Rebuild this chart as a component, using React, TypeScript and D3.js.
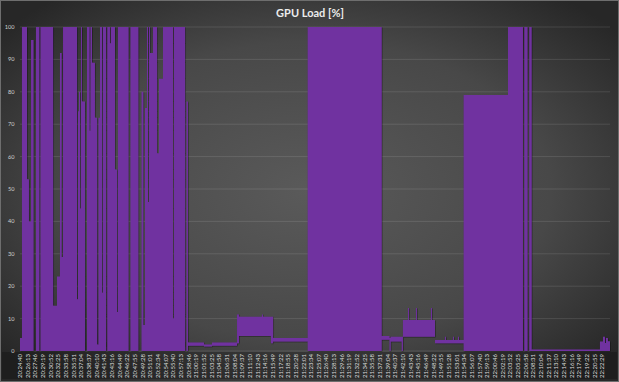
import React from 'react';
import * as d3 from 'd3';

// X-axis category labels (one every 93 s)
const tickLabels = [
  '20:24:40','20:26:13','20:27:46','20:29:19','20:30:52','20:32:25','20:33:58','20:35:31','20:37:04','20:38:37',
  '20:40:10','20:41:43','20:43:16','20:44:49','20:46:22','20:47:55','20:49:28','20:51:01','20:52:34','20:54:07',
  '20:55:40','20:57:13','20:58:46','21:00:19','21:01:52','21:03:25','21:04:58','21:06:31','21:08:04','21:09:37',
  '21:11:10','21:12:43','21:14:16','21:15:49','21:17:22','21:18:55','21:20:28','21:22:01','21:23:34','21:25:07',
  '21:26:40','21:28:13','21:29:46','21:31:19','21:32:52','21:34:25','21:35:58','21:37:31','21:39:04','21:40:37',
  '21:42:10','21:43:43','21:45:16','21:46:49','21:48:22','21:49:55','21:51:28','21:53:01','21:54:34','21:56:07',
  '21:57:40','21:59:13','22:00:46','22:02:19','22:03:52','22:05:25','22:06:58','22:08:31','22:10:04','22:11:37',
  '22:13:10','22:14:43','22:16:16','22:17:49','22:19:22','22:20:55','22:22:29'
];
const TICK_INTERVAL_S = 93;
const DOMAIN_END_S = 7161;

// Step series: seconds since 20:24:40, GPU load high / low (%)
const stepTimes = [
  0, 24, 85, 109, 134, 164, 194, 234, 249, 401, 449, 485, 506, 522, 692, 704, 716, 728, 740, 752,
  789, 813, 844, 856, 874, 910, 935, 953, 971, 995, 1007, 1044, 1060, 1092, 1104, 1153, 1177, 1189, 1317, 1341,
  1436, 1475, 1496, 1517, 1541, 1554, 1566, 1578, 1614, 1663, 1687, 1736, 1857, 1869, 2003, 2021,
  2039, 2233, 2330, 2634, 2658, 2937, 2949, 3046, 3071, 3492, 4390, 4485, 4499, 4633, 4648, 4709, 4721, 4806, 4818, 4988,
  5000, 5037, 5158, 5170, 5255, 5267, 5316, 5328, 5385, 5923, 6105, 6121, 6160, 6181, 6210, 7039, 7076, 7100, 7112, 7136
];
const stepHigh = [
  4, 100, 53, 40, 96, 0, 100, 0, 100, 14, 23, 92, 29, 100, 16, 74, 80, 44, 100, 77,
  0, 100, 68, 100, 89, 72, 2, 72, 100, 18, 100, 0, 100, 95, 100, 56, 12, 100, 0, 100,
  0, 80, 8, 75, 100, 46, 100, 92, 100, 61, 84, 100, 10, 100, 0, 77,
  2.6, 2.0, 2.6, 11.3, 10.6, 11.3, 10.6, 10.6, 4, 100, 4.6, 4, 4.4, 4.4, 9.6, 13.3, 9.6, 13.3, 9.6, 13.3,
  9.6, 3.4, 4.4, 3.4, 4.4, 3.4, 4.4, 3.4, 79, 100, 0, 100, 0, 100, 0.5, 2.9, 4.4, 2.5, 4, 3
];
const stepLow = [
  0, 0, 0, 0, 0, 0, 0, 0, 0, 0, 0, 0, 0, 0, 0, 0, 0, 0, 0, 0,
  0, 0, 0, 0, 0, 0, 0, 0, 0, 0, 0, 0, 0, 0, 0, 0, 0, 0, 0, 0,
  0, 0, 0, 0, 0, 0, 0, 0, 0, 0, 0, 0, 0, 0, 0, 0,
  1.6, 1.4, 1.6, 2.4, 4.6, 4.6, 4.6, 2.4, 2.9, 0, 3.5, 0, 2.9, 0, 4.4, 4.4, 4.4, 4.4, 4.4, 4.4,
  4.4, 2.4, 2.4, 2.4, 2.4, 2.4, 2.4, 2.4, 0, 0, 0, 0, 0, 0, 0, 0, 0, 0, 0, 0
];
const yTicks = [0, 10, 20, 30, 40, 50, 60, 70, 80, 90, 100];

const W = 619;
const H = 382;
const FONT = 'Lato, "Open Sans", "DejaVu Sans", sans-serif';

export default function App() {
  const x = d3.scaleLinear().domain([0, DOMAIN_END_S]).range([20, 610]);
  const y = d3.scaleLinear().domain([0, 100]).range([351, 27]);

  type P = { t: number; hi: number; lo: number };
  const pts: P[] = stepTimes.map((t, i) => ({ t, hi: stepHigh[i], lo: stepLow[i] }));
  const last = pts[pts.length - 1];
  pts.push({ t: DOMAIN_END_S, hi: last.hi, lo: last.lo });

  const area = d3
    .area<P>()
    .curve(d3.curveStepAfter)
    .x((d) => x(d.t))
    .y0((d) => y(d.lo))
    .y1((d) => y(d.hi));

  return (
    <div style={{ position: 'absolute', left: 0, top: 0 }}>
      <svg width={W} height={H} style={{ display: 'block' }}>
        <defs>
          <radialGradient id="bg" cx="50%" cy="50%" r="65%">
            <stop offset="0%" stopColor="#5a5a5a" />
            <stop offset="60%" stopColor="#484848" />
            <stop offset="100%" stopColor="#272727" />
          </radialGradient>
          <filter id="sh" x="-5%" y="-5%" width="110%" height="110%">
            <feDropShadow dx="0.5" dy="0.5" stdDeviation="0.6" floodColor="#000" floodOpacity="0.6" />
          </filter>
        </defs>
        <rect x={0} y={0} width={W} height={H} fill="url(#bg)" />
        <rect x={0.5} y={0.5} width={W - 1} height={H - 1} fill="none" stroke="#6e6e6e" strokeWidth={1} />
        {/* x label band */}
        <rect x={2} y={352} width={W - 4} height={27} fill="rgba(0,0,0,0.22)" />

        <text x={310} y={17} textAnchor="middle" fontFamily={FONT} fontWeight={700} fontSize={11} fill="#ececec">
          GPU Load [%]
        </text>

        {yTicks.map((v) => (
          <g key={v}>
            <line x1={20} x2={610} y1={y(v)} y2={y(v)} stroke="rgba(255,255,255,0.11)" strokeWidth={1} />
            <text x={14.5} y={y(v) + 2} textAnchor="end" fontFamily={FONT} fontSize={5.6} fill="#cfcfcf">
              {v}
            </text>
          </g>
        ))}

        <path d={area(pts) || ''} fill="#7030a0" filter="url(#sh)" />

        {tickLabels.map((lab, i) => {
          const px = x(i * TICK_INTERVAL_S);
          return (
            <text
              key={lab}
              transform={`translate(${px + 2},354) rotate(-90)`}
              textAnchor="end"
              fontFamily={FONT}
              fontSize={6}
              fill="#dcdcdc"
            >
              {lab}
            </text>
          );
        })}
      </svg>
    </div>
  );
}
